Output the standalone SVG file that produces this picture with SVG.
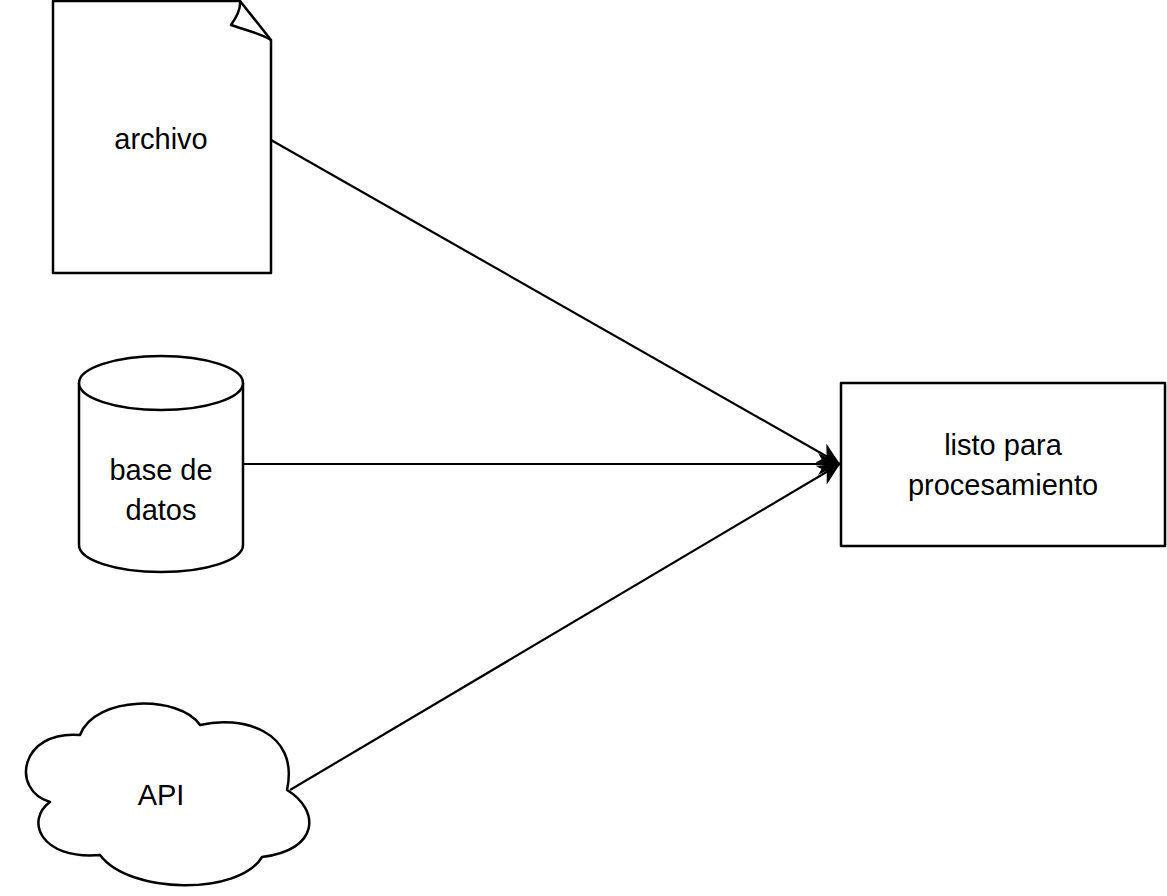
<svg xmlns="http://www.w3.org/2000/svg" width="1167" height="896" viewBox="0 0 1167 896">
<style>
.s{fill:#fff;stroke:#000;stroke-width:2.5;stroke-linejoin:round}
.f{fill:none;stroke:#000;stroke-width:2.5;stroke-linejoin:round}
.t{font-family:"Liberation Sans",Arial,sans-serif;font-size:29px;fill:#000;text-anchor:middle}
.c{stroke:#000;stroke-width:2.2;fill:none}
</style>
<defs>
<marker id="b" viewBox="0 0 10 10" refX="10" refY="5" markerWidth="22" markerHeight="22" markerUnits="userSpaceOnUse" orient="auto"><path d="M0,0 L10,5 L0,10 L3,5 Z" fill="#000"/></marker>
</defs>
<rect width="1167" height="896" fill="#fff"/>
<g id="connectors">
<line class="c" x1="271" y1="140" x2="840" y2="464" marker-end="url(#b)"/>
<line class="c" x1="243" y1="464" x2="840" y2="464" marker-end="url(#b)"/>
<line class="c" x1="290" y1="790" x2="840" y2="464" marker-end="url(#b)"/>
</g>
<g id="archivo">
<path class="s" d="M53,1 H240 L271,40 V273 H53 Z"/>
<path class="f" d="M240,1 C241,10 236,18 231,25 C245,30 260,33 271,40"/>
<text class="t" x="161" y="149">archivo</text>
</g>
<g id="base">
<path class="s" d="M79,383 V545 A82,27 0 0 0 243,545 V383"/>
<ellipse class="s" cx="161" cy="383" rx="82" ry="27"/>
<text class="t" x="161" y="480">base de</text>
<text class="t" x="161" y="520">datos</text>
</g>
<g id="api">
<path class="s" d="M80,735 C95,695 180,695 200,725 C240,715 300,730 287,790 C320,810 320,850 262,857 C240,895 130,895 100,855 C40,860 25,820 50,802 C10,790 20,730 80,735 Z"/>
<text class="t" x="161" y="805">API</text>
</g>
<g id="listo">
<rect class="s" x="841" y="383" width="324" height="163"/>
<text class="t" x="1003" y="455">listo para</text>
<text class="t" x="1003" y="495">procesamiento</text>
</g>
</svg>
